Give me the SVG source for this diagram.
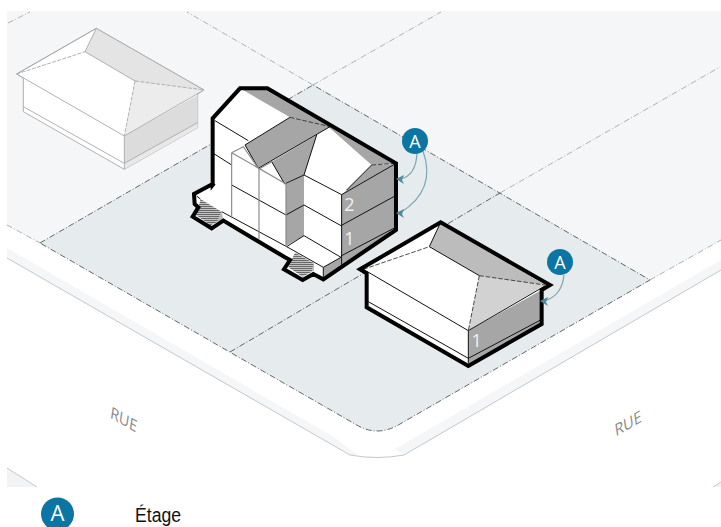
<svg xmlns="http://www.w3.org/2000/svg" width="721" height="527" viewBox="0 0 721 527">
<style>
.lot{fill:none;stroke:#3c4246;stroke-width:.8;stroke-dasharray:6 2 1 2}
.lite{fill:none;stroke:#9a9ea0;stroke-width:.8;stroke-dasharray:6 2 1 2}
.curb{fill:none;stroke:#c4c7c9;stroke-width:1}
.ln{fill:none;stroke:#111;stroke-width:3}
.gl{fill:none;stroke:#8a8a8a;stroke-width:3.500}
.dk{fill:#a6a6a6}
.out{fill:none;stroke:#000;stroke-width:12;stroke-linejoin:miter}
.ds{fill:none;stroke:#222;stroke-width:2.4;stroke-dasharray:14 5}
.badge{fill:#0b76a3}
.bt{fill:#fff;font-family:"Open Sans","Liberation Sans",sans-serif;text-anchor:middle}
.fl{fill:#f1f1f1;font-family:"Open Sans","Liberation Sans",sans-serif;font-size:54px;text-anchor:middle}
.rue{fill:#8a8a8a;font-family:"Open Sans","Liberation Sans",sans-serif;font-size:16px;text-anchor:middle}
.arc{fill:none;stroke:#7ea5b0;stroke-width:1.2}
.ah{fill:#4f8a9e}
</style>
<defs>
<pattern id="hatch" width="6" height="6" patternUnits="userSpaceOnUse"><rect width="6" height="6" fill="#c4c4c4"/><rect width="6" height="3" fill="#666"/></pattern>
</defs>
<g id="ground">
<rect x="7" y="11" width="714" height="476" fill="#f5f6f8"/>
<path d="M7 225L40 243L355 424Q377 438 400 424L650 280L721 240V270L404 455Q377 460 350 455L7 258Z" fill="#fff"/>
<path d="M7 258L350 455Q377 460 404 455L721 270V487H36L7 468Z" fill="#fff"/>
<path d="M7 248L332 436L358 455L350 455L7 258Z" fill="#f5f6f8"/>
<path d="M721 260L395 449L404 455L721 270Z" fill="#f5f6f8"/>
<path d="M7 468L37 487H7Z" fill="#f2f3f5"/>
<path d="M713 487L721 482V487Z" fill="#f2f3f5"/>
<path d="M40 243L313 85L650 280L400 424Q377 438 355 424Z" fill="#e6ebed"/>
</g>
<g id="connectors">
<path class="lot" d="M40 243L313 85L650 280L400 424Q377 438 355 424Z"/>
<path class="lot" d="M230 352L500 193"/>
<path class="lite" d="M313 85L441 12M500 193L720 67M313 85L187 12M8 23L30 12M7 225L40 243M650 280L721 240"/>
<path class="curb" d="M7 258L350 455Q377 460 404 455L721 270M7 468L37 487M713 487L721 482"/>
</g>
<g id="house-ghost" transform="scale(.3333)">
<path d="M50 222L289 85L612 270L593 282V383L373 508L70 335V235Z" fill="#fff" stroke="#a8a8a8" stroke-width="2.7" stroke-linejoin="round"/>
<path d="M289 85L255 155L405 243L612 270Z" fill="#e4e4e4"/>
<path d="M405 243L612 270L373 408Z" fill="#ececec"/>
<path d="M373 408L593 285V368L373 490Z" fill="#dcdcdc"/>
<path d="M373 490L593 368V383L373 508Z" fill="#e8e8e8"/>
<path d="M50 222L373 408L612 270L289 85Z" fill="none" stroke="#a8a8a8" stroke-width="2.7"/>
<path d="M289 85L255 155L405 243M70 320L373 490L593 368M373 408V508" fill="none" stroke="#a8a8a8" stroke-width="2.7"/>
<path d="M50 222L255 155M405 243L612 270M405 243L373 408" fill="none" stroke="#a8a8a8" stroke-width="2.7" stroke-dasharray="12 4"/>
</g>
<g id="house-2-etages" transform="translate(180 70) scale(.3333)">
<path d="M102 340L98 145L180 55H262L648 280V480L430 628L400 612L368 630L312 598L330 570L315 562L130 452L95 475L38 440L55 412L44 402L42 372Z" fill="#fff"/>
<path class="dk" d="M180 55L262 55L645 280L575 285L445 170L330 142Z"/>
<path class="dk" d="M645 282L575 285L500 360L487 372Z"/>
<path class="dk" d="M485 374L645 282V475L483 590Z"/>
<path class="dk" d="M195 225L330 142L450 170L235 295Z"/>
<path class="dk" d="M275 275L410 195L375 305L372 315L314 342Z"/>
<path class="dk" d="M318 342L372 315V497L318 527Z"/>
<path class="dk" d="M430 592L483 562V590L432 622Z"/>
<path class="ln" d="M105 152L205 212M100 250L155 285M195 225L330 142M235 295L450 170M235 295L195 225M275 275L314 342L372 315L410 195M372 315L485 374L645 282M485 374V590M483 467L645 378M483 558L645 473M372 405L483 467M318 435L372 405M155 345L318 435M372 497L483 562L430 592L320 530L372 497M430 592V622M50 378L62 388M125 425L320 530M575 285L500 360"/>
<path class="ds" d="M330 142L450 170M575 285L645 280"/>
<path class="gl" d="M155 248L190 230L235 295M237 297L275 275M155 248L318 342M155 248V445M237 297V508M318 342V530"/>
<path d="M125 425L130 448L112 455Z" fill="#bbb"/>
<path d="M62 388L125 425L112 455L92 466L48 435Z" fill="url(#hatch)"/>
<path d="M402 580L402 602L395 605Z" fill="#bbb"/>
<path d="M345 548L402 580L395 605L368 620L325 592Z" fill="url(#hatch)"/>
<path class="out" d="M102 340L98 345V145L180 55H262L648 280V480L430 628L400 612L368 630L312 598L330 570L315 562L130 452L95 475L38 440L55 412L44 402L42 372L102 340"/>
<text class="fl" x="508" y="424">2</text>
<text class="fl" x="508" y="524">1</text>
</g>
<g id="house-1-etage" transform="translate(350 210) scale(.3333)">
<path d="M30 178L272 37L600 225L575 240V342L355 468L50 292V190Z" fill="#fff"/>
<path d="M272 37L238 110L388 197L585 225Z" fill="#bcbcbc"/>
<path d="M388 197L585 225L355 362Z" fill="#d2d2d2"/>
<path class="dk" d="M355 362L575 240V342L355 468Z"/>
<path class="ln" d="M272 37L238 110L388 197M40 178L355 362L585 228M55 275L355 445L572 330M355 362V460"/>
<path class="ds" d="M40 178L238 110M388 197L585 225M388 197L355 362"/>
<path class="out" d="M30 178L272 37L600 225L575 240V342L355 468L50 292V190Z"/>
<text class="fl" x="380" y="411">1</text>
</g>
<g id="callout-a1">
<path class="arc" d="M417 153Q416 176 400 179M423 151Q437 190 400 213"/>
<path class="ah" d="M396 179L404 175L402 180L404 184Z"/>
<path class="ah" d="M396 213L404 209L402 214L404 218Z"/>
<circle class="badge" cx="415" cy="141" r="13"/>
<text class="bt" x="415" y="147.500" font-size="18">A</text>
</g>
<g id="callout-a2">
<path class="arc" d="M564 275Q562 296 544 301"/>
<path class="ah" d="M540 301L548 297L546 302L548 306Z"/>
<circle class="badge" cx="560" cy="262" r="13"/>
<text class="bt" x="560" y="268.500" font-size="18">A</text>
</g>
<g id="labels">
<text class="rue" transform="matrix(.866 .5 -.15 1 123 425)">RUE</text>
<text class="rue" transform="matrix(.866 -.5 .15 1 629 429)">RUE</text>
</g>
<g id="legend">
<circle class="badge" cx="57.500" cy="514" r="16.500"/>
<text class="bt" x="57.500" y="520.500" font-size="22">A</text>
<text x="135" y="522" font-family="'Liberation Sans',sans-serif" font-size="20" textLength="46" lengthAdjust="spacingAndGlyphs" fill="#111">Étage</text>
</g>
</svg>
